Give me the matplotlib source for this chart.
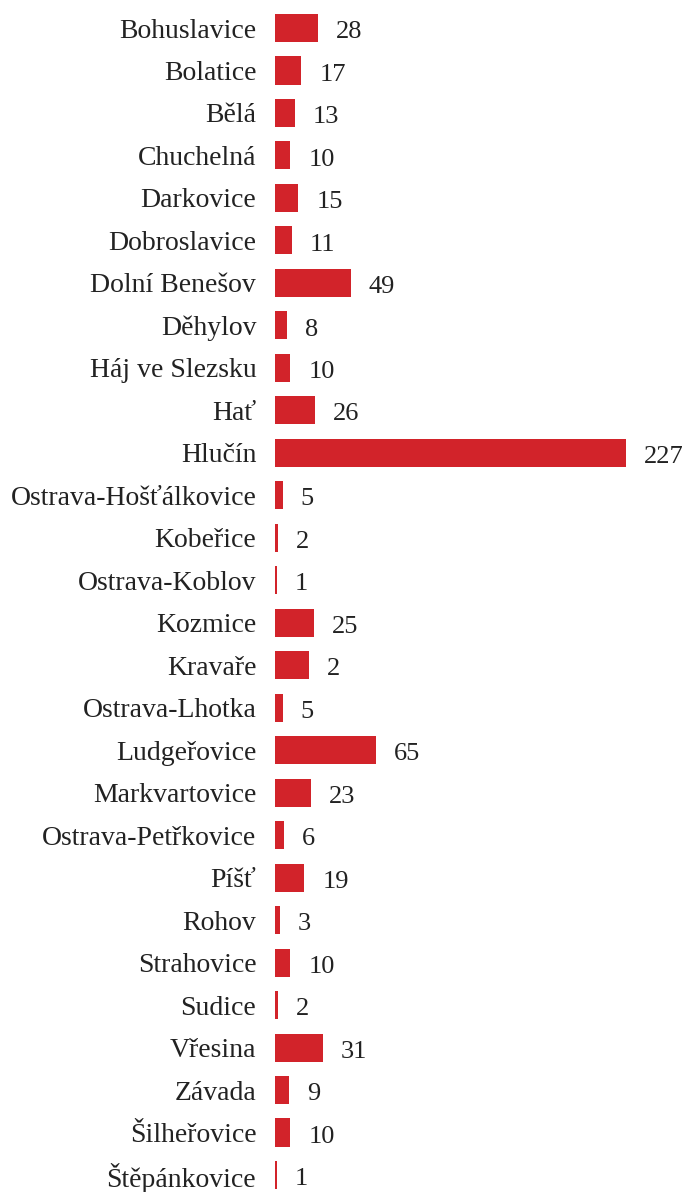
import matplotlib
matplotlib.use("Agg")
import matplotlib.pyplot as plt

categories = ["Bohuslavice", "Bolatice", "Bělá", "Chuchelná", "Darkovice", "Dobroslavice",
              "Dolní Benešov", "Děhylov", "Háj ve Slezsku", "Hať", "Hlučín",
              "Ostrava-Hošťálkovice", "Kobeřice", "Ostrava-Koblov", "Kozmice", "Kravaře",
              "Ostrava-Lhotka", "Ludgeřovice", "Markvartovice", "Ostrava-Petřkovice", "Píšť",
              "Rohov", "Strahovice", "Sudice", "Vřesina", "Závada", "Šilheřovice", "Štěpánkovice"]
values = [28, 17, 13, 10, 15, 11, 49, 8, 10, 26, 227, 5, 2, 1, 25, 22, 5, 65, 23, 6, 19,
          3, 10, 2, 31, 9, 10, 1]
value_labels = ["28", "17", "13", "10", "15", "11", "49", "8", "10", "26", "227", "5", "2", "1",
                "25", "2", "5", "65", "23", "6", "19", "3", "10", "2", "31", "9", "10", "1"]

W, H = 687, 1192
fig = plt.figure(figsize=(W / 100, H / 100), dpi=100)
ax = fig.add_axes([275 / W, 0, (W - 275) / W, 1])

font = ["Liberation Serif", "DejaVu Serif"]
bar_color = "#d2232a"
text_color = "#222222"

ypos = list(range(len(categories)))
ax.barh(ypos, values, height=0.66, color=bar_color)

px_per_unit = (626 - 275) / 227
ax.set_xlim(0, (W - 275) / px_per_unit)
spacing = (1175 - 28) / 27
ax.set_ylim(27 + (H - 1175) / spacing, -28 / spacing)

ax.set_yticks(ypos)
ax.set_yticklabels(categories, fontfamily=font, fontsize=20, color=text_color)
ax.tick_params(axis="y", length=0, pad=13.5)
ax.set_xticks([])
for s in ax.spines.values():
    s.set_visible(False)

for y, v, lab in zip(ypos, values, value_labels):
    ax.annotate(lab, xy=(v, y), xytext=(13, -3), textcoords="offset points",
                ha="left", va="center", fontfamily=font, fontsize=19, color=text_color)

fig.savefig("out.png", dpi=100)
